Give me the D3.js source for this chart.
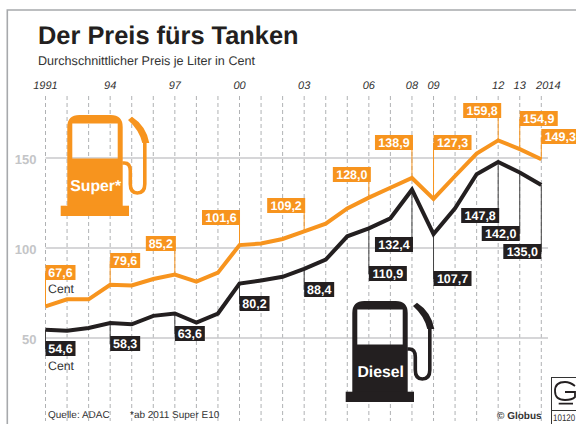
<!DOCTYPE html>
<html>
<head>
<meta charset="utf-8">
<script src="https://cdn.jsdelivr.net/npm/d3@7"></script>
<style>
html, body { margin: 0; padding: 0; background: #fff; }
svg { display: block; }
text { font-family: "Liberation Sans", Arial, sans-serif; text-rendering: geometricPrecision; }
</style>
</head>
<body>
<div class="canva"></div>
<script>
const width = 576;
const height = 424;

const years = d3.range(1991, 2015);
const super_preis = [67.6, 71.5, 71.5, 79.6, 79.2, 82.8, 85.2, 81.3, 86.3, 101.6, 102.5, 105, 109.2, 113.5, 122, 128, 133.5, 138.9, 127.3, 140, 152.5, 159.8, 154.9, 149.3];
const diesel_preis = [54.6, 54, 55.6, 58.3, 57.6, 62.3, 63.6, 58.6, 63.6, 80.2, 82, 84, 88.4, 93.5, 106.5, 110.9, 116.5, 132.4, 107.7, 122, 141, 147.8, 142, 135];

const tick_years = [1991, 1994, 1997, 2000, 2003, 2006, 2008, 2009, 2012, 2013, 2014];
const tick_labels = ['1991', '94', '97', '00', '03', '06', '08', '09', '12', '13', '2014'];
const y_ticks = [50, 100, 150];

// which years get a value box, and which side/height the box sits at
const super_labels = [1991, 1994, 1997, 2000, 2003, 2006, 2008, 2009, 2012, 2013, 2014];
const super_box_dx = [0, 0, -29, -37.5, -37, -36, -37, 0, -35, 0, 0];
const super_box_top = [265, 253, 236, 210, 198, 167, 135, 135, 103, 111, 129];
const diesel_labels = [1991, 1994, 1997, 2000, 2003, 2006, 2008, 2009, 2012, 2013, 2014];
const diesel_box_dx = [0, 0, 0, 0, 0, 0, -37, 0, -37, -38, -38];
const diesel_box_top = [341, 336, 326, 296, 282, 266, 237, 271, 208, 226, 244];

const orange = '#f7941e';
const black = '#231f20';

const svg = d3.select('.canva').append('svg')
  .attr('width', width)
  .attr('height', height);

const x = d3.scaleLinear().domain([1991, 2014]).range([45.5, 541.3]);
const y = d3.scaleLinear().domain([50, 150]).range([338, 158]);

// frame
svg.append('path')
  .attr('d', 'M7.3,424V10H576')
  .attr('fill', 'none')
  .attr('stroke', '#a7a9ac')
  .attr('stroke-width', 1.6);

svg.append('text').attr('x', 38).attr('y', 44)
  .attr('font-size', 25.4).attr('font-weight', 'bold').attr('fill', black)
  .text('Der Preis fürs Tanken');
svg.append('text').attr('x', 38).attr('y', 65)
  .attr('font-size', 12.6).attr('fill', '#333')
  .text('Durchschnittlicher Preis je Liter in Cent');

// gridlines
svg.append('g').selectAll('line').data(years).join('line')
  .attr('x1', d => x(d)).attr('x2', d => x(d))
  .attr('y1', 96).attr('y2', 421)
  .attr('stroke', '#a7a9ac').attr('stroke-width', 0.9)
  .attr('stroke-dasharray', '4 3');

svg.append('g').selectAll('line').data(y_ticks).join('line')
  .attr('x1', x(1991)).attr('x2', 548)
  .attr('y1', d => y(d)).attr('y2', d => y(d))
  .attr('stroke', '#c8c9cb').attr('stroke-width', 1.3);

svg.append('g').selectAll('text').data(y_ticks).join('text')
  .attr('x', 36.5).attr('y', d => y(d) + 6)
  .attr('text-anchor', 'end')
  .attr('font-size', 13).attr('font-weight', 'bold').attr('fill', '#c4c5c7')
  .text(d => d);

// 2014 sits a bit right of its gridline so it clears the 13
svg.append('g').selectAll('text').data(tick_years).join('text')
  .attr('x', d => x(d) + (d === 2014 ? 7 : 0)).attr('y', 89)
  .attr('text-anchor', 'middle')
  .attr('font-size', 11).attr('font-style', 'italic').attr('fill', '#333')
  .text((d, i) => tick_labels[i]);

const line = d3.line().x((d, i) => x(years[i])).y(d => y(d));

function fmt(v) { return v.toFixed(1).replace('.', ','); }

// one series: stems, line, boxes
function draw_series(values, label_years, box_dx, box_top, color, stem_color) {
  const g = svg.append('g');
  g.selectAll('line').data(label_years).join('line')
    .attr('x1', d => x(d)).attr('x2', d => x(d))
    .attr('y1', d => y(values[years.indexOf(d)]))
    .attr('y2', (d, i) => box_top[i] + 8)
    .attr('stroke', stem_color).attr('stroke-width', 1);
  g.append('path').datum(values)
    .attr('d', line)
    .attr('fill', 'none').attr('stroke', color)
    .attr('stroke-width', 4).attr('stroke-linejoin', 'miter');
  const box = g.selectAll('g').data(label_years).join('g')
    .attr('transform', (d, i) => `translate(${x(d) + box_dx[i]},${box_top[i]})`);
  box.append('rect')
    .attr('width', d => fmt(values[years.indexOf(d)]).length > 4 ? 38 : 30)
    .attr('height', 15)
    .attr('fill', color);
  box.append('text')
    .attr('x', d => fmt(values[years.indexOf(d)]).length > 4 ? 19 : 15)
    .attr('y', 12)
    .attr('text-anchor', 'middle')
    .attr('font-size', 12.5).attr('font-weight', 'bold').attr('fill', '#fff')
    .text(d => fmt(values[years.indexOf(d)]));
}

draw_series(super_preis, super_labels, super_box_dx, super_box_top, orange, orange);
draw_series(diesel_preis, diesel_labels, diesel_box_dx, diesel_box_top, black, '#444');

svg.append('text').attr('x', 48).attr('y', 293).attr('font-size', 12.3).attr('fill', '#333').text('Cent');
svg.append('text').attr('x', 48).attr('y', 370).attr('font-size', 12.3).attr('fill', '#333').text('Cent');

// pump icon, drawn around its own origin
function pump(tx, ty, color, label) {
  const g = svg.append('g').attr('transform', `translate(${tx},${ty})`);
  g.append('path')
    .attr('fill', color)
    .attr('fill-rule', 'evenodd')
    .attr('d', 'M0,94V12Q0,0 12,0H43.4Q55.4,0 55.4,12V94Z M5,8.5V43.5H50.4V8.5Z');
  g.append('rect').attr('x', -6.6).attr('y', 90.7).attr('width', 68.3).attr('height', 10.3).attr('fill', color);
  g.append('path')
    .attr('fill', 'none').attr('stroke', color).attr('stroke-width', 3.6)
    .attr('d', 'M55,48H57Q63,48 63,56V69Q63,78 70,78Q77.5,78 77.5,69V27');
  g.append('path')
    .attr('fill', color)
    .attr('d', 'M60.7,5L64.7,1.7Q79,11 82,28H75Q72,15 60.7,5Z');
  g.append('text').attr('x', 28.4).attr('y', 75.5)
    .attr('text-anchor', 'middle')
    .attr('font-size', 15.8).attr('font-weight', 'bold').attr('fill', '#fff')
    .text(label);
}
pump(67.3, 115, orange, 'Super*');
pump(352.3, 301, black, 'Diesel');

svg.append('text').attr('x', 48).attr('y', 418).attr('font-size', 10).attr('fill', '#333').text('Quelle: ADAC');
svg.append('text').attr('x', 130).attr('y', 418).attr('font-size', 10).attr('fill', '#333').text('*ab 2011 Super E10');
svg.append('text').attr('x', 497).attr('y', 418.5).attr('font-size', 10).attr('font-weight', 'bold').attr('fill', '#333').text('© Globus');

// Globus mark
svg.append('rect').attr('x', 551.5).attr('y', 377.5).attr('width', 30).attr('height', 50)
  .attr('fill', '#fff').attr('stroke', '#333').attr('stroke-width', 1);
svg.append('line').attr('x1', 552).attr('x2', 576).attr('y1', 410.5).attr('y2', 410.5).attr('stroke', '#333');
svg.append('text').attr('transform', 'translate(553,421) scale(1,1.2)').attr('font-size', 8).attr('fill', '#333').text('10120');
svg.append('path').attr('fill', 'none').attr('stroke', '#231f20').attr('stroke-width', 1.8)
  .attr('d', 'M575,386Q570,382 565,382Q555,382 555,391Q555,400 565,400Q572,400 575,397V392H565 M558.7,403.7H573');
</script>
</body>
</html>
